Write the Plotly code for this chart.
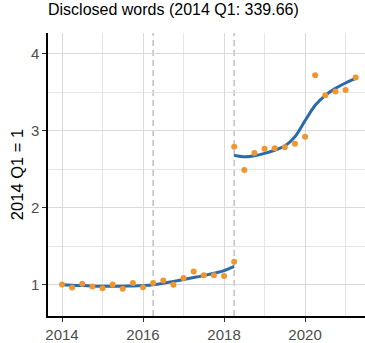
import plotly.graph_objects as go

# Quarterly observations, indexed to 2014 Q1 = 1
quarters_pre = [2014.0, 2014.25, 2014.5, 2014.75, 2015.0, 2015.25, 2015.5, 2015.75,
                2016.0, 2016.25, 2016.5, 2016.75, 2017.0, 2017.25, 2017.5, 2017.75,
                2018.0, 2018.25]
words_pre = [1.00, 0.96, 1.01, 0.975, 0.95, 1.00, 0.945, 1.02,
             0.965, 1.02, 1.05, 0.995, 1.085, 1.17, 1.12, 1.12,
             1.11, 1.295]
smooth_pre = [0.995, 0.99, 0.985, 0.98, 0.977, 0.977, 0.978, 0.98,
              0.985, 0.995, 1.015, 1.04, 1.065, 1.09, 1.115, 1.145,
              1.18, 1.235]

quarters_post = [2018.25, 2018.5, 2018.75, 2019.0, 2019.25, 2019.5, 2019.75,
                 2020.0, 2020.25, 2020.5, 2020.75, 2021.0, 2021.25]
words_post = [2.79, 2.49, 2.71, 2.765, 2.77, 2.785, 2.83,
              2.92, 3.72, 3.46, 3.51, 3.53, 3.69]
smooth_post = [2.68, 2.66, 2.675, 2.705, 2.745, 2.80, 2.92,
               3.13, 3.33, 3.46, 3.55, 3.62, 3.68]

breaks = [2016.25, 2018.25]

x_ticks = [2014, 2016, 2018, 2020]
y_ticks = [1, 2, 3, 4]

ORANGE = "#EF962F"
BLUE = "#2B6AAB"
FONT = "Liberation Sans, Arial, sans-serif"

fig = go.Figure()

for xb in breaks:
    fig.add_vline(x=xb, line=dict(color="#C4C4C4", width=1.6, dash="6px,4px"), layer="below")

for qx, sm in ((quarters_pre, smooth_pre), (quarters_post, smooth_post)):
    fig.add_trace(go.Scatter(x=qx, y=sm, mode="lines",
                             line=dict(color=BLUE, width=3, shape="spline", smoothing=0.8),
                             hoverinfo="skip", showlegend=False))

for qx, wv in ((quarters_pre, words_pre), (quarters_post, words_post)):
    fig.add_trace(go.Scatter(x=qx, y=wv, mode="markers",
                             marker=dict(color=ORANGE, size=6, line=dict(width=0)),
                             showlegend=False))

fig.update_layout(
    width=365, height=343,
    margin=dict(l=48, r=0, t=33, b=23),
    paper_bgcolor="white", plot_bgcolor="white",
    font=dict(family=FONT, color="#4D4D4D", size=15),
    title=dict(text="Disclosed words (2014 Q1: 339.66)", x=0, xref="paper", xanchor="left",
               y=1, yref="container", yanchor="top", pad=dict(t=4, l=0),
               font=dict(family=FONT, size=16, color="black")),
)

fig.update_xaxes(
    range=[2013.654, 2021.48],
    tickvals=x_ticks, ticktext=[str(v) for v in x_ticks],
    showgrid=True, gridcolor="#DADADA", gridwidth=1.2,
    minor=dict(dtick=1, tick0=2014, showgrid=True, gridcolor="#E6E6E6", gridwidth=1.2,
               ticks=""),
    showline=True, linecolor="black", linewidth=1.5,
    ticks="outside", ticklen=4, tickcolor="#333333", tickwidth=1.2,
    zeroline=False, tickfont=dict(size=15, color="#4D4D4D"),
)
fig.update_yaxes(
    range=[0.59, 4.27],
    tickvals=y_ticks, ticktext=[str(v) for v in y_ticks],
    showgrid=True, gridcolor="#DADADA", gridwidth=1.2,
    minor=dict(dtick=0.5, tick0=1, showgrid=True, gridcolor="#E6E6E6", gridwidth=1.2,
               ticks=""),
    showline=True, linecolor="black", linewidth=1.5,
    ticks="outside", ticklen=4, tickcolor="#333333", tickwidth=1.2,
    zeroline=False, tickfont=dict(size=15, color="#4D4D4D"),
    title=dict(text="2014 Q1 = 1", font=dict(size=16.5, color="black"), standoff=3),
)

fig.write_html("out.html")
